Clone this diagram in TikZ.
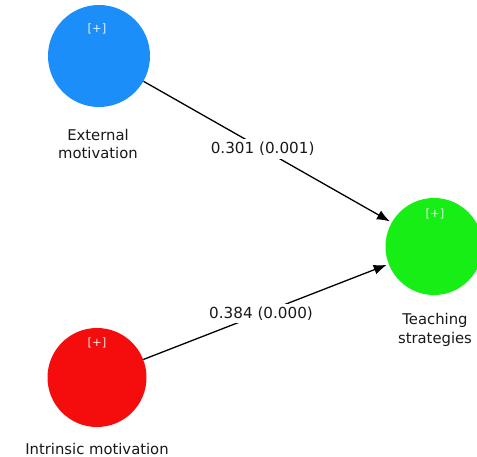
\documentclass[tikz,border=0pt]{standalone}
\usepackage{fontspec}
\setmainfont{DejaVu Sans}
\usetikzlibrary{arrows.meta}
\definecolor{cblue}{RGB}{28,142,250}
\definecolor{cgreen}{RGB}{22,238,22}
\definecolor{cred}{RGB}{245,12,12}
\definecolor{ctext}{RGB}{25,25,25}
\tikzset{
  latent/.style={circle, draw=none, minimum size=98pt, inner sep=0pt},
  plus/.style={text=white, text opacity=0.9, font=\fontsize{11.5}{13}\selectfont},
  lbl/.style={align=center, text=ctext, font=\fontsize{14.8}{18.5}\selectfont, inner sep=0pt},
  path/.style={draw=black, line width=1.3pt, -{Latex[length=13pt,width=10pt]}, shorten >=2pt},
  coef/.style={fill=white, text=ctext, font=\fontsize{15.2}{18}\selectfont, inner sep=3pt}
}
\begin{document}
\begin{tikzpicture}[x=1pt,y=-1pt]
\useasboundingbox[fill=white] (0,0) rectangle (477,457);
\node[latent, fill=cblue, minimum size=102pt] (ext) at (99,56) {};
\node[latent, fill=cgreen, minimum size=97pt] (tea) at (434,246.5) {};
\node[latent, fill=cred, minimum size=99pt] (int) at (97,377.5) {};
\node[plus] (extp) at (97,29) {[+]};
\node[plus] (teap) at (435,214) {[+]};
\node[plus] (intp) at (97,343) {[+]};
\node[lbl] (extl) at (98,144) {External\\motivation};
\node[lbl] (teal) at (435,330) {Teaching\\strategies};
\node[lbl] (intl) at (97,449) {Intrinsic motivation};
\draw[path] (ext) -- node[coef, pos=0.48] (c1) {0.301 (0.001)} (tea);
\draw[path] (int) -- node[coef, pos=0.48] (c2) {0.384 (0.000)} (tea);
\end{tikzpicture}
\end{document}
